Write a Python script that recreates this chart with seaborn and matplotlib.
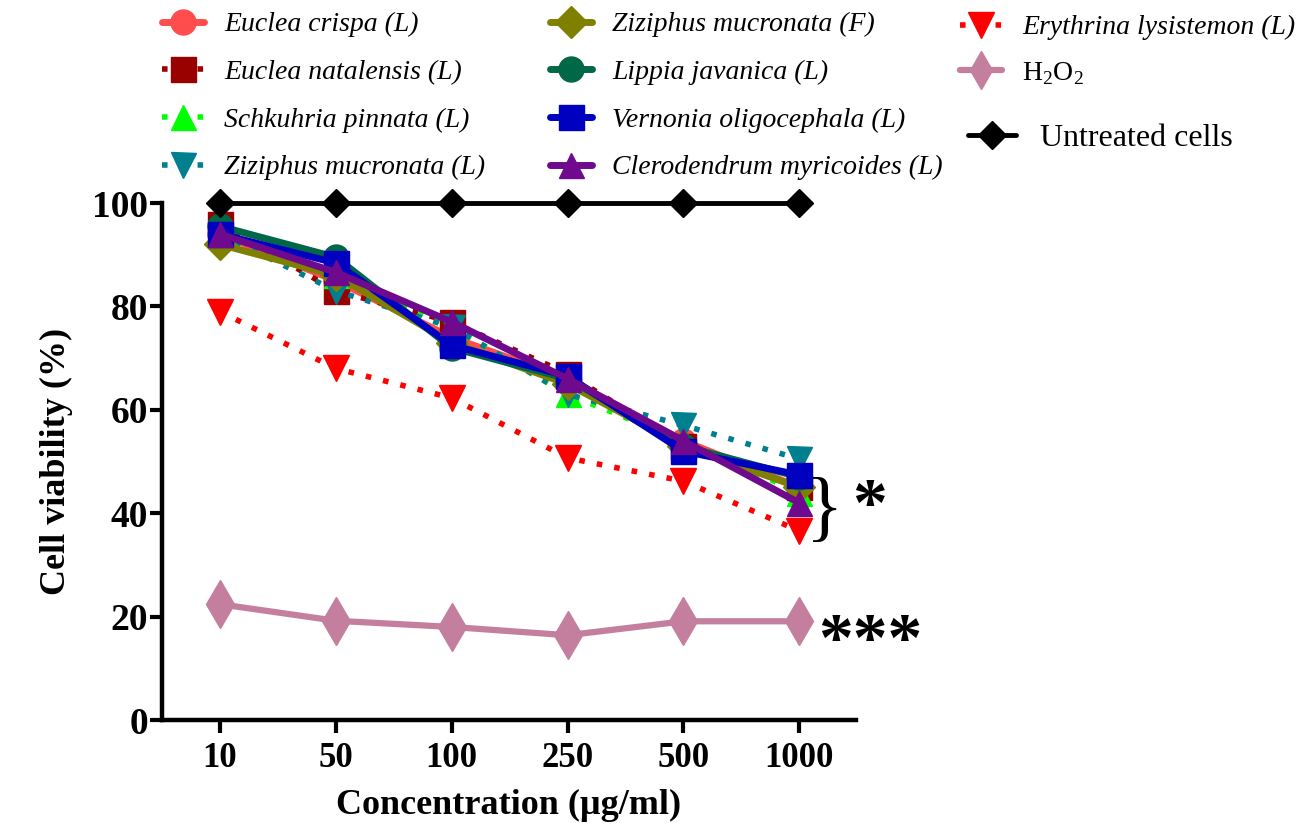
import numpy as np
import pandas as pd
import matplotlib
matplotlib.use("Agg")
import matplotlib.pyplot as plt
import seaborn as sns

# Concentrations (categorical x axis)
conc_labels = ['10', '50', '100', '250', '500', '1000']

# Cell viability (%) per extract
euclea_crispa = [94, 85, 74, 66, 54, 45]
euclea_natalensis = [96, 83, 77, 67, 53, 45]
schkuhria_pinnata = [94, 86, 76, 63, 54, 44]
ziziphus_leaf = [94, 83, 76, 63, 57, 50.5]
ziziphus_fruit = [92, 86, 73, 65, 53, 45]
lippia_javanica = [95.5, 89.5, 72, 66, 53, 47]
vernonia_oligocephala = [94, 88.4, 72.5, 66.5, 52, 47.4]
clerodendrum_myricoides = [94, 86.6, 77, 66, 54, 42]
erythrina_lysistemon = [79, 68, 62.3, 50.7, 46.2, 36.6]
h2o2 = [22.4, 19.2, 18, 16.4, 19.1, 19.1]
untreated = [100, 100, 100, 100, 100, 100]

series_names = ['Euclea crispa (L)', 'Euclea natalensis (L)', 'Schkuhria pinnata (L)',
                'Ziziphus mucronata (L)', 'Ziziphus mucronata (F)', 'Lippia javanica (L)',
                'Vernonia oligocephala (L)', 'Clerodendrum myricoides (L)',
                'Erythrina lysistemon (L)', 'H$_2$O$_2$', 'Untreated cells']
series_values = [euclea_crispa, euclea_natalensis, schkuhria_pinnata, ziziphus_leaf,
                 ziziphus_fruit, lippia_javanica, vernonia_oligocephala,
                 clerodendrum_myricoides, erythrina_lysistemon, h2o2, untreated]

colors = ['#FF4C4C', '#990000', '#00FF00', '#007F8F', '#808000', '#006847',
          '#0000C0', '#6F0A8F', '#FF0000', '#C47F9E', '#000000']
markers = ['o', 's', '^', 'v', 'D', 'o', 's', '^', 'v', 'd', 'D']
dotted = (0, (1, 2.2))
styles = ['-', dotted, dotted, dotted, '-', '-', '-', '-', dotted, '-', '-']
widths = [5, 4, 4, 4, 5, 5, 5, 5, 4, 4.5, 3.5]
msizes = [18, 18, 18, 18, 16, 18, 18, 18, 19, 24, 14]

sns.set_style('white')
plt.rcParams['font.family'] = ['Liberation Serif', 'DejaVu Sans']
plt.rcParams['mathtext.fontset'] = 'custom'
plt.rcParams['mathtext.rm'] = 'Liberation Serif'
plt.rcParams['text.color'] = 'black'
plt.rcParams['axes.labelcolor'] = 'black'
plt.rcParams['xtick.color'] = 'black'
plt.rcParams['ytick.color'] = 'black'
plt.rcParams['axes.edgecolor'] = 'black'

fig = plt.figure(figsize=(13.12, 8.3), dpi=100)
ax = fig.add_axes([0.1235, 0.1325, 0.529, 0.6229])

positions = np.arange(len(conc_labels))
lines = []
for name, vals, c, m, ls, lw, ms in zip(series_names, series_values, colors, markers,
                                         styles, widths, msizes):
    df = pd.DataFrame({'pos': positions, 'viability': vals})
    sns.lineplot(data=df, x='pos', y='viability', ax=ax, color=c, marker=m,
                 linestyle=ls, linewidth=lw, markersize=ms, markeredgecolor=c,
                 markeredgewidth=1, errorbar=None, clip_on=False,
                 dash_capstyle='butt')
    lines.append(ax.get_lines()[-1])

ax.set_xlim(-0.5, 5.49)
ax.set_ylim(0, 100)
ax.set_xticks(positions)
ax.set_xticklabels(conc_labels)
ax.set_yticks([0, 20, 40, 60, 80, 100])
sns.despine(ax=ax)
for s in ['left', 'bottom']:
    ax.spines[s].set_linewidth(3.2)
ax.tick_params(axis='both', bottom=True, left=True, direction='out', length=9,
               width=3, color='black')
ax.tick_params(axis='x', labelsize=25, pad=7)
ax.tick_params(axis='y', labelsize=27, pad=1)
for lbl in ax.get_xticklabels() + ax.get_yticklabels():
    lbl.set_fontweight('bold')

ax.set_xlabel('Concentration (µg/ml)', fontsize=26, fontweight='bold', labelpad=10)
ax.set_ylabel('Cell viability (%)', fontsize=26, fontweight='bold', labelpad=14)

# significance marks
ax.text(5.06, 40, '}', fontsize=56, ha='left', va='center', clip_on=False)
ax.text(5.46, 40.8, '*', fontsize=50, fontweight='bold', ha='left', va='center',
        clip_on=False)
ax.text(5.16, 14.8, '***', fontsize=50, fontweight='bold', ha='left', va='center',
        clip_on=False)

# legends
leg_kw = dict(frameon=False, loc='upper left', borderpad=0, borderaxespad=0,
              handlelength=1.5, handletextpad=0.75, labelspacing=0.8)
italic = dict(size=20, style='italic')
leg1 = fig.legend(lines[0:4], series_names[0:4], bbox_to_anchor=(162 / 1312, 1 - 12 / 830),
                  prop=italic, **leg_kw)
leg2 = fig.legend(lines[4:8], series_names[4:8], bbox_to_anchor=(550 / 1312, 1 - 12 / 830),
                  prop=italic, **leg_kw)
leg3 = fig.legend(lines[8:9], series_names[8:9], bbox_to_anchor=(960 / 1312, 1 - 15 / 830),
                  prop=italic, **leg_kw)
leg4 = fig.legend(lines[9:10], series_names[9:10], bbox_to_anchor=(960 / 1312, 1 - 60 / 830),
                  prop=dict(size=20), markerscale=0.8, **leg_kw)
leg5 = fig.legend(lines[10:11], series_names[10:11], bbox_to_anchor=(968 / 1312, 1 - 124 / 830),
                  prop=dict(size=23), **leg_kw)

fig.savefig('out.png', dpi=100)
